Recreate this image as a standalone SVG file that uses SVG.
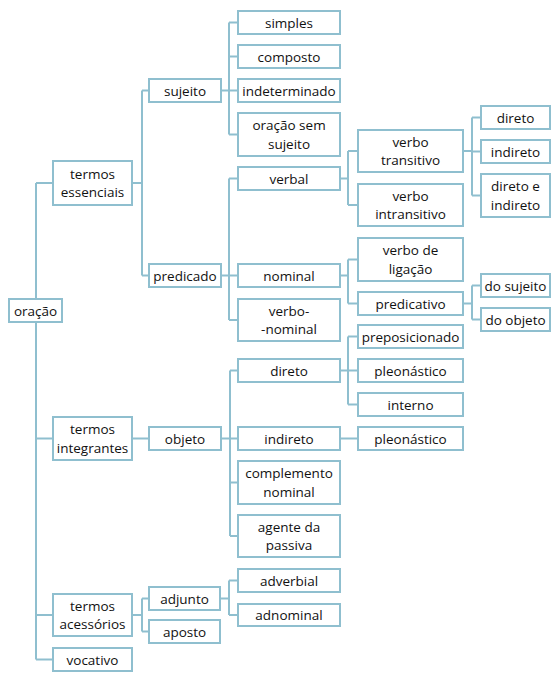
<svg xmlns="http://www.w3.org/2000/svg" width="559" height="680" viewBox="0 0 559 680">
<style>
.b{fill:#fff;stroke:#8fbfcf;stroke-width:2}
.c{fill:none;stroke:#8fbfcf;stroke-width:2}
text{font-family:"Open Sans","Noto Sans",sans-serif;font-size:13.5px;fill:#111;text-anchor:middle}
</style>
<rect width="559" height="680" fill="#fff"/>
<g id="connectors" class="c">
<path d="M36,183V659.5M36,183H52M36,438.5H52M36,615H52M36,659.5H52"/>
<path d="M133,183H142M142,90.5V275.5M142,90.5H148M142,275.5H148"/>
<path d="M133,438.5H148"/>
<path d="M133,615H142M142,598.5V631.5M142,598.5H148M142,631.5H148"/>
<path d="M222,90.5H229M229,22.5V134.5M229,22.5H237M229,56.5H237M229,90.5H237M229,134.5H237"/>
<path d="M222,275.5H229M229,178.5V320M229,178.5H237M229,275.5H237M229,320H237"/>
<path d="M222,438.5H230M230,370.5V536M230,370.5H237M230,438.5H237M230,482.5H237M230,536H237"/>
<path d="M221,598.5H229M229,580.5V615M229,580.5H237M229,615H237"/>
<path d="M341,178.5H348M348,151V205M348,151H357M348,205H357"/>
<path d="M341,275.5H348M348,259.5V303.5M348,259.5H357M348,303.5H357"/>
<path d="M341,370.5H348M348,336.5V404.5M348,336.5H357M348,370.5H357M348,404.5H357"/>
<path d="M341,438.5H357"/>
<path d="M464,151H472M472,117.5V195.5M472,117.5H480M472,151.5H480M472,195.5H480"/>
<path d="M464,303.5H472M472,285.5V319.5M472,285.5H480M472,319.5H480"/>
</g>
<g id="oracao"><rect class="b" x="9" y="299" width="53" height="23"/><text x="35.5" y="315.5">oração</text></g>
<g id="termos-essenciais"><rect class="b" x="53" y="161" width="79" height="44"/><text x="92.5" y="178.5">termos</text><text x="92.5" y="197">essenciais</text></g>
<g id="termos-integrantes"><rect class="b" x="53" y="417" width="79" height="43"/><text x="92.5" y="434">termos</text><text x="92.5" y="452.5">integrantes</text></g>
<g id="termos-acessorios"><rect class="b" x="53" y="594" width="79" height="42"/><text x="92.5" y="610.5">termos</text><text x="92.5" y="629">acessórios</text></g>
<g id="vocativo"><rect class="b" x="53" y="648" width="79" height="23"/><text x="92.5" y="664.5">vocativo</text></g>
<g id="sujeito"><rect class="b" x="149" y="79" width="72" height="23"/><text x="185" y="95.5">sujeito</text></g>
<g id="predicado"><rect class="b" x="149" y="264" width="72" height="23"/><text x="185" y="280.5">predicado</text></g>
<g id="objeto"><rect class="b" x="149" y="427" width="72" height="23"/><text x="185" y="443.5">objeto</text></g>
<g id="adjunto"><rect class="b" x="149" y="587" width="71" height="23"/><text x="184.5" y="603.5">adjunto</text></g>
<g id="aposto"><rect class="b" x="149" y="620" width="71" height="23"/><text x="184.5" y="636.5">aposto</text></g>
<g id="simples"><rect class="b" x="238" y="11" width="102" height="23"/><text x="289" y="27.5">simples</text></g>
<g id="composto"><rect class="b" x="238" y="45" width="102" height="23"/><text x="289" y="61.5">composto</text></g>
<g id="indeterminado"><rect class="b" x="238" y="79" width="102" height="23"/><text x="289" y="95.5">indeterminado</text></g>
<g id="oracao-sem-sujeito"><rect class="b" x="238" y="113" width="102" height="43"/><text x="289" y="130">oração sem</text><text x="289" y="148.5">sujeito</text></g>
<g id="verbal"><rect class="b" x="238" y="167" width="102" height="23"/><text x="289" y="183.5">verbal</text></g>
<g id="nominal"><rect class="b" x="238" y="264" width="102" height="23"/><text x="289" y="280.5">nominal</text></g>
<g id="verbo-nominal"><rect class="b" x="238" y="299" width="102" height="42"/><text x="289" y="315.5">verbo-</text><text x="289" y="334">-nominal</text></g>
<g id="direto-obj"><rect class="b" x="238" y="359" width="102" height="23"/><text x="289" y="375.5">direto</text></g>
<g id="indireto-obj"><rect class="b" x="238" y="427" width="102" height="23"/><text x="289" y="443.5">indireto</text></g>
<g id="complemento-nominal"><rect class="b" x="238" y="461" width="102" height="43"/><text x="289" y="478">complemento</text><text x="289" y="496.5">nominal</text></g>
<g id="agente-da-passiva"><rect class="b" x="238" y="515" width="102" height="42"/><text x="289" y="531.5">agente da</text><text x="289" y="550">passiva</text></g>
<g id="adverbial"><rect class="b" x="238" y="569" width="102" height="23"/><text x="289" y="585.5">adverbial</text></g>
<g id="adnominal"><rect class="b" x="238" y="604" width="102" height="22"/><text x="289" y="620">adnominal</text></g>
<g id="verbo-transitivo"><rect class="b" x="358" y="130" width="105" height="42"/><text x="410.5" y="146.5">verbo</text><text x="410.5" y="165">transitivo</text></g>
<g id="verbo-intransitivo"><rect class="b" x="358" y="184" width="105" height="42"/><text x="410.5" y="200.5">verbo</text><text x="410.5" y="219">intransitivo</text></g>
<g id="verbo-de-ligacao"><rect class="b" x="358" y="238" width="105" height="43"/><text x="410.5" y="255">verbo de</text><text x="410.5" y="273.5">ligação</text></g>
<g id="predicativo"><rect class="b" x="358" y="292" width="105" height="23"/><text x="410.5" y="308.5">predicativo</text></g>
<g id="preposicionado"><rect class="b" x="358" y="325" width="105" height="23"/><text x="410.5" y="341.5">preposicionado</text></g>
<g id="pleonastico-direto"><rect class="b" x="358" y="359" width="105" height="23"/><text x="410.5" y="375.5">pleonástico</text></g>
<g id="interno"><rect class="b" x="358" y="393" width="105" height="23"/><text x="410.5" y="409.5">interno</text></g>
<g id="pleonastico-indireto"><rect class="b" x="358" y="427" width="105" height="23"/><text x="410.5" y="443.5">pleonástico</text></g>
<g id="direto-vt"><rect class="b" x="481" y="106" width="69" height="23"/><text x="515.5" y="122.5">direto</text></g>
<g id="indireto-vt"><rect class="b" x="481" y="140" width="69" height="23"/><text x="515.5" y="156.5">indireto</text></g>
<g id="direto-e-indireto"><rect class="b" x="481" y="174" width="69" height="43"/><text x="515.5" y="191">direto e</text><text x="515.5" y="209.5">indireto</text></g>
<g id="do-sujeito"><rect class="b" x="481" y="274" width="69" height="23"/><text x="515.5" y="290.5">do sujeito</text></g>
<g id="do-objeto"><rect class="b" x="481" y="308" width="69" height="23"/><text x="515.5" y="324.5">do objeto</text></g>
</svg>
